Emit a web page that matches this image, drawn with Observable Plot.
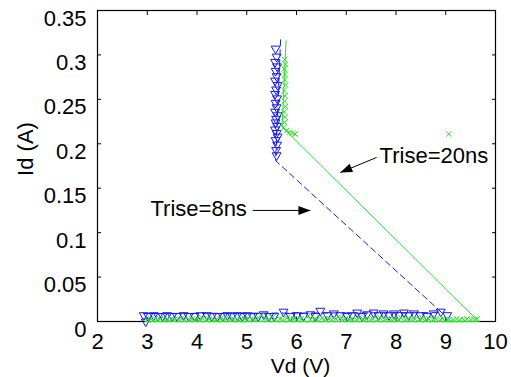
<!DOCTYPE html>
<html><head><meta charset="utf-8">
<script src="https://cdn.jsdelivr.net/npm/d3@7"></script>
<script src="https://cdn.jsdelivr.net/npm/@observablehq/plot@0.6"></script>
<style>body{margin:0;background:#fff}</style>
</head><body><div id="chart"></div>
<script>
const xTicks = [2,3,4,5,6,7,8,9,10];
const yTicks = [0,0.05,0.1,0.15,0.2,0.25,0.3,0.35];
const xLabel = "Vd (V)";
const yLabel = "Id (A)";

// Trise = 8ns (blue triangles)
const blueCluster = [[5.58,0.307],[5.60,0.298],[5.57,0.292],[5.61,0.287],[5.58,0.282],[5.60,0.276],[5.57,0.271],[5.62,0.266],[5.59,0.261],[5.57,0.256],[5.61,0.251],[5.58,0.246],[5.60,0.241],[5.57,0.236],[5.62,0.232],[5.59,0.228],[5.58,0.224],[5.61,0.220],[5.57,0.216],[5.60,0.212],[5.62,0.208],[5.58,0.204],[5.61,0.199],[5.59,0.193],[5.60,0.187]];
const blueBottom = [[2.93,0.007],[2.97,0.000],[3.02,0.006],[3.13,0.007],[3.22,0.006],[3.31,0.006],[3.40,0.007],[3.50,0.006],[3.60,0.006],[3.73,0.007],[3.83,0.006],[3.95,0.006],[4.07,0.007],[4.20,0.007],[4.30,0.006],[4.41,0.006],[4.52,0.006],[4.61,0.007],[4.71,0.006],[4.81,0.007],[4.91,0.006],[5.01,0.007],[5.12,0.006],[5.23,0.006],[5.34,0.008],[5.45,0.006],[5.55,0.006],[5.74,0.011],[5.88,0.006],[6.01,0.007],[6.14,0.006],[6.28,0.008],[6.38,0.006],[6.48,0.012],[6.62,0.007],[6.75,0.009],[6.88,0.007],[7.02,0.006],[7.12,0.007],[7.22,0.010],[7.32,0.006],[7.42,0.008],[7.55,0.010],[7.65,0.007],[7.75,0.009],[7.86,0.007],[7.96,0.009],[8.06,0.007],[8.16,0.010],[8.26,0.007],[8.36,0.009],[8.49,0.007],[8.62,0.006],[8.76,0.009],[8.90,0.011],[9.03,0.007]];
const blueLine = [[5.68,0.317],[5.58,0.181],[8.92,0.010],[2.92,0.009]];

// Trise = 20ns (green crosses)
const greenCluster = [[5.76,0.295],[5.78,0.289],[5.75,0.284],[5.77,0.278],[5.76,0.272],[5.78,0.266],[5.75,0.260],[5.77,0.254],[5.76,0.248],[5.78,0.242],[5.75,0.236],[5.77,0.230],[5.76,0.224],[5.74,0.218],[5.80,0.215],[5.86,0.213],[5.92,0.212],[5.97,0.211],[9.06,0.211]];
const greenBottom = [[3.00,0.002],[3.07,0.003],[3.12,0.002],[3.20,0.002],[3.26,0.003],[3.35,0.002],[3.41,0.002],[3.48,0.003],[3.54,0.002],[3.63,0.002],[3.69,0.003],[3.75,0.002],[3.84,0.002],[3.90,0.003],[3.96,0.002],[4.05,0.002],[4.10,0.004],[4.19,0.002],[4.24,0.003],[4.33,0.002],[4.38,0.002],[4.47,0.003],[4.53,0.002],[4.59,0.004],[4.68,0.002],[4.73,0.003],[4.82,0.002],[4.87,0.002],[4.96,0.003],[5.01,0.002],[5.10,0.003],[5.15,0.002],[5.24,0.004],[5.29,0.007],[5.38,0.003],[5.43,0.002],[5.52,0.005],[5.57,0.002],[5.67,0.003],[5.72,0.002],[5.81,0.004],[5.86,0.002],[5.95,0.003],[6.00,0.002],[6.09,0.003],[6.14,0.002],[6.23,0.006],[6.28,0.002],[6.37,0.003],[6.42,0.002],[6.51,0.004],[6.56,0.002],[6.65,0.003],[6.70,0.002],[6.79,0.003],[6.84,0.005],[6.93,0.002],[6.98,0.003],[7.07,0.002],[7.12,0.003],[7.21,0.002],[7.26,0.004],[7.35,0.002],[7.40,0.003],[7.49,0.002],[7.54,0.003],[7.63,0.002],[7.68,0.004],[7.77,0.002],[7.82,0.003],[7.91,0.002],[7.96,0.003],[8.05,0.002],[8.10,0.004],[8.19,0.002],[8.24,0.003],[8.33,0.002],[8.38,0.003],[8.47,0.002],[8.52,0.004],[8.61,0.002],[8.66,0.003],[8.75,0.002],[8.80,0.003],[8.89,0.002],[8.94,0.003],[9.03,0.002],[9.08,0.002],[9.15,0.002],[9.22,0.003],[9.29,0.002],[9.36,0.002],[9.43,0.003],[9.50,0.002],[9.57,0.002],[9.63,0.003]];
const greenLine = [[5.79,0.316],[5.71,0.219],[9.66,0.000],[2.96,0.000]];

// annotations
const annoText = ["Trise=20ns","Trise=8ns"];
const annoX = [7.67, 3.065];
const annoY = [0.1862, 0.1262];
const arrowFrom = [[7.61,0.1846],[5.12,0.125]];
const arrowTo = [[6.88,0.1677],[6.28,0.125]];

const BLUE = "#1a1aee", GREEN = "#22e622";
const pts = a => a.map(([x,y]) => ({x,y}));
const annos = annoText.map((t,i) => ({text:t, x:annoX[i], y:annoY[i]}));
const arrows = arrowFrom.map((f,i) => ({x1:f[0], y1:f[1], x2:arrowTo[i][0], y2:arrowTo[i][1]}));
const arrowHead = {draw(ctx){ ctx.moveTo(0,0); ctx.lineTo(4.5,12); ctx.lineTo(-4.5,12); ctx.closePath(); }};
const fmt = d3.format("~g");

const plot = Plot.plot({
  width: 511, height: 377,
  marginLeft: 97, marginRight: 16, marginTop: 10, marginBottom: 56,
  x: {domain: [2,10]},
  y: {domain: [0,0.35]},
  style: {fontFamily: "'Liberation Sans', Arial, Helvetica, sans-serif", fontSize: "22px", background: "white", color: "black", overflow: "visible"},
  marks: [
    Plot.frame({stroke: "black", strokeWidth: 1.2}),
    Plot.axisX({ticks: xTicks, anchor: "bottom", tickSize: -4, tickFormat: () => "", label: null}),
    Plot.axisX({ticks: xTicks, anchor: "top", tickSize: -4, tickFormat: () => "", label: null}),
    Plot.axisY({ticks: yTicks, anchor: "left", tickSize: -4, tickFormat: () => "", label: null}),
    Plot.axisY({ticks: yTicks, anchor: "right", tickSize: -4, tickFormat: () => "", label: null}),
    Plot.axisX({ticks: xTicks, anchor: "bottom", tickSize: 0, tickPadding: 12, tickFormat: fmt, label: null}),
    Plot.axisY({ticks: yTicks, anchor: "left", tickSize: 0, tickPadding: 11, dy: 8, tickFormat: fmt, label: null}),
    Plot.text([xLabel], {frameAnchor: "bottom", lineAnchor: "middle", textAnchor: "middle", dx: 4, dy: 44.5, fontSize: 21, fill: "black"}),
    Plot.text([yLabel], {frameAnchor: "left", lineAnchor: "middle", textAnchor: "middle", rotate: -90, dx: -72, dy: -17, fill: "black"}),
    Plot.line(pts(blueLine), {x: "x", y: "y", stroke: BLUE, strokeWidth: 1, strokeDasharray: "6,4"}),
    Plot.dot(pts(blueCluster.concat(blueBottom)), {x: "x", y: "y", symbol: "triangle", rotate: 180, r: 3.3, stroke: BLUE, strokeWidth: 1, fill: "none"}),
    Plot.dot(pts(greenCluster.concat(greenBottom)), {x: "x", y: "y", symbol: "times", r: 2.6, stroke: GREEN, strokeWidth: 1}),
    Plot.line(pts(greenLine), {x: "x", y: "y", stroke: GREEN, strokeWidth: 1}),
    Plot.link(arrows, {x1: "x1", y1: "y1", x2: "x2", y2: "y2", stroke: "black", strokeWidth: 1}),
    Plot.dot(arrows.slice(0,1), {x: "x2", y: "y2", symbol: arrowHead, rotate: 247, fill: "black", stroke: "none"}),
    Plot.dot(arrows.slice(1,2), {x: "x2", y: "y2", symbol: arrowHead, rotate: 90, fill: "black", stroke: "none"}),
    Plot.text(annos, {x: "x", y: "y", text: "text", textAnchor: "start", fill: "black"})
  ]
});
document.getElementById("chart").appendChild(plot);
</script>
</body></html>
